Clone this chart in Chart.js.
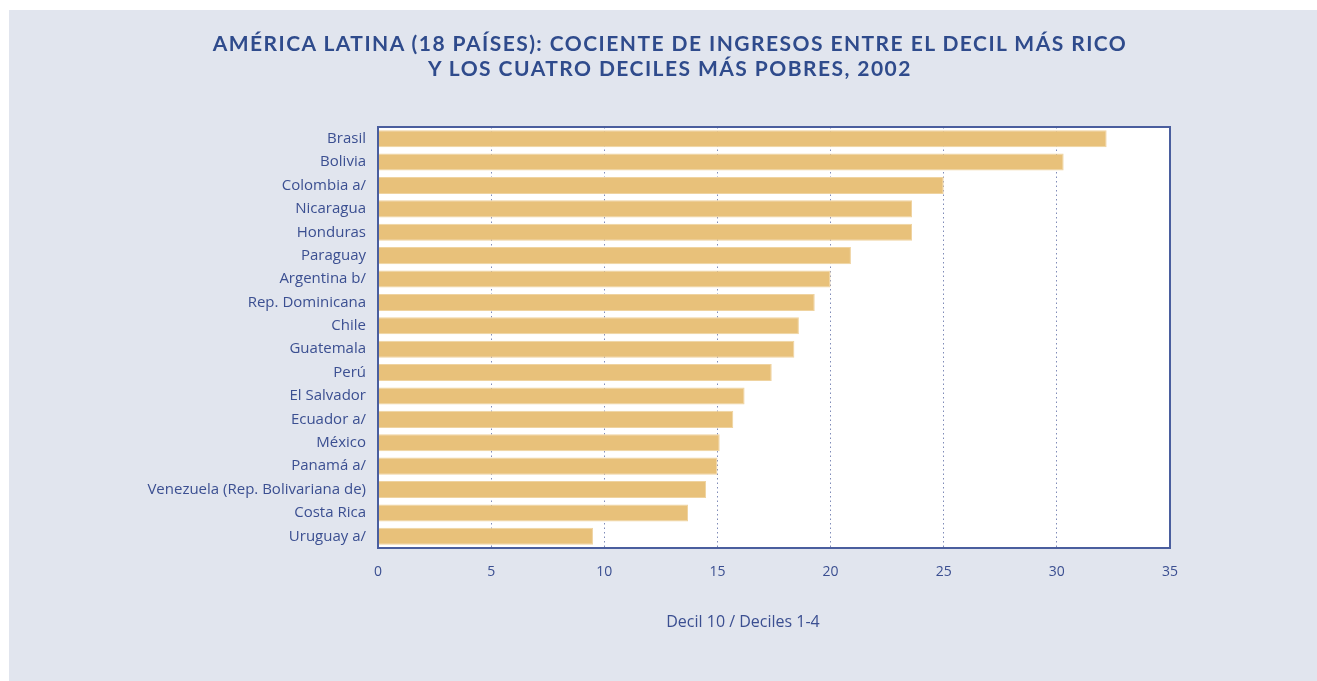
<!DOCTYPE html>
<html>
<head>
<meta charset="utf-8">
<script src="https://cdn.jsdelivr.net/npm/chart.js@4"></script>
<style>
    body { margin: 0; background: #ffffff; }
    .panel {
        position: absolute;
        left: 9px; top: 10px;
        width: 1308px; height: 671px;
        background: #e1e5ee;
    }
    canvas { position: absolute; left: 0; top: 0; }
    .title {
        position: absolute;
        left: 0; width: 1322px;
        top: 20px;
        text-align: center;
        font-family: Lato, sans-serif;
        font-weight: bold;
        font-size: 21px;
        letter-spacing: 1.45px;
        line-height: 25px;
        color: #2f4b8c;
    }
    .axis-title {
        position: absolute;
        left: 534px; width: 400px;
        top: 600px;
        text-align: center;
        font-family: 'Open Sans', sans-serif;
        font-size: 16px;
        color: #3b4f91;
    }
</style>
</head>
<body>
<div class="panel">
    <canvas id="chart" width="1308" height="671"></canvas>
    <div class="title" id="title"></div>
    <div class="axis-title" id="axisTitle"></div>
</div>
<script>
// Cociente decil 10 / deciles 1-4, 2002
const countries = [
    'Brasil', 'Bolivia', 'Colombia a/', 'Nicaragua', 'Honduras', 'Paraguay',
    'Argentina b/', 'Rep. Dominicana', 'Chile', 'Guatemala', 'Perú',
    'El Salvador', 'Ecuador a/', 'México', 'Panamá a/',
    'Venezuela (Rep. Bolivariana de)', 'Costa Rica', 'Uruguay a/'
];
const ratios = [
    32.2, 30.3, 25.0, 23.6, 23.6, 20.9,
    20.0, 19.3, 18.6, 18.4, 17.4,
    16.2, 15.7, 15.1, 15.0,
    14.5, 13.7, 9.5
];
const titleLines = [
    'AMÉRICA LATINA (18 PAÍSES): COCIENTE DE INGRESOS ENTRE EL DECIL MÁS RICO',
    'Y LOS CUATRO DECILES MÁS POBRES, 2002'
];
const axisTitle = 'Decil 10 / Deciles 1-4';

const TEXT = '#3b4f91';
const FRAME = '#4a5e9e';

document.getElementById('title').innerHTML = titleLines.join('<br>');
document.getElementById('axisTitle').textContent = axisTitle;

// fondo blanco y marco del área de gráfico
const plotFrame = {
    id: 'plotFrame',
    beforeDraw(chart) {
        const a = chart.chartArea;
        const ctx = chart.ctx;
        ctx.save();
        ctx.fillStyle = '#ffffff';
        ctx.fillRect(a.left, a.top, a.right - a.left, a.bottom - a.top);
        ctx.restore();
    },
    afterDraw(chart) {
        const a = chart.chartArea;
        const ctx = chart.ctx;
        ctx.save();
        ctx.strokeStyle = FRAME;
        ctx.lineWidth = 2;
        ctx.strokeRect(a.left, a.top, a.right - a.left, a.bottom - a.top);
        ctx.restore();
    }
};

new Chart(document.getElementById('chart'), {
    type: 'bar',
    data: {
        labels: countries,
        datasets: [{
            data: ratios,
            backgroundColor: '#e8c17a',
            borderColor: '#efd3a0',
            borderWidth: 1,
            barPercentage: 0.73,
            categoryPercentage: 1
        }]
    },
    options: {
        indexAxis: 'y',
        responsive: false,
        animation: false,
        layout: { padding: { left: 0, right: 147, top: 117, bottom: 0 } },
        plugins: {
            legend: { display: false },
            tooltip: { enabled: false },
            title: { display: false }
        },
        scales: {
            x: {
                min: 0,
                max: 35,
                ticks: {
                    stepSize: 5,
                    color: TEXT,
                    padding: 16,
                    font: { family: 'Open Sans', size: 14 }
                },
                grid: {
                    drawTicks: false,
                    lineWidth: 1,
                    color: ctx => (ctx.tick && (ctx.tick.value === 0 || ctx.tick.value === 35))
                        ? 'rgba(0,0,0,0)' : '#7f8bb8'
                },
                border: { display: false, dash: [1.5, 3] },
                afterFit(scale) { scale.height = 133; }
            },
            y: {
                ticks: {
                    color: TEXT,
                    padding: 12,
                    autoSkip: false,
                    font: { family: 'Open Sans', size: 15 }
                },
                grid: { display: false, drawTicks: false },
                border: { display: false },
                afterFit(scale) { scale.width = 369; }
            }
        }
    },
    plugins: [plotFrame]
});
</script>
</body>
</html>
